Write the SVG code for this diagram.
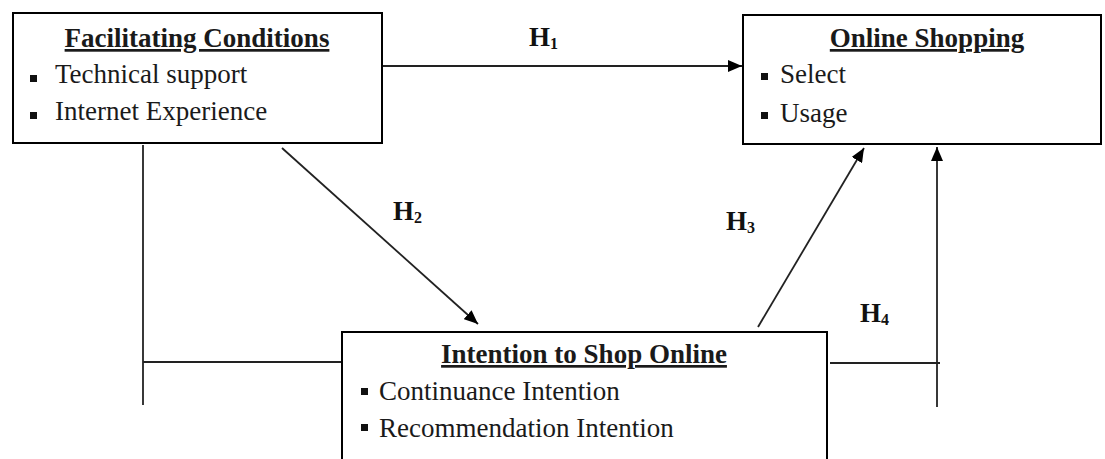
<svg xmlns="http://www.w3.org/2000/svg" width="1105" height="459" viewBox="0 0 1105 459">
<style>
.box{fill:#fff;stroke:#000;stroke-width:2}
text{font-family:'Liberation Serif','Times New Roman','DejaVu Serif',serif}
.t{font-size:27px;font-weight:bold;text-decoration:underline;fill:#1a1a1a}
.i{font-size:27px;fill:#1a1a1a}
.h{font-size:27px;font-weight:bold;fill:#111}
.s{font-size:16px}
.b{fill:#111}
.c{stroke:#222;stroke-width:1.8;fill:none}
</style>
<defs>
<marker id="ah" viewBox="0 0 14 12" refX="14" refY="6" markerWidth="14" markerHeight="12" markerUnits="userSpaceOnUse" orient="auto">
<path d="M0,0 L14,6 L0,12 z" fill="#000"/>
</marker>
</defs>
<g id="connectors">
<line class="c" x1="382" y1="66" x2="742" y2="66" marker-end="url(#ah)"/>
<line class="c" x1="282" y1="148" x2="478" y2="324" marker-end="url(#ah)"/>
<line class="c" x1="758" y1="327" x2="864" y2="148" marker-end="url(#ah)"/>
<line class="c" x1="937" y1="407" x2="937" y2="147" marker-end="url(#ah)"/>
<line class="c" x1="143" y1="145" x2="143" y2="405"/>
<line class="c" x1="143" y1="362" x2="342" y2="362"/>
<line class="c" x1="830" y1="363" x2="940" y2="363"/>
<text class="h" x="529" y="46">H<tspan class="s" dy="3">1</tspan></text>
<text class="h" x="393" y="220">H<tspan class="s" dy="3">2</tspan></text>
<text class="h" x="726" y="230">H<tspan class="s" dy="3">3</tspan></text>
<text class="h" x="860" y="322">H<tspan class="s" dy="3">4</tspan></text>
</g>
<g id="facilitating">
<rect class="box" x="13" y="13" width="369" height="130"/>
<text class="t" x="197" y="47" text-anchor="middle">Facilitating Conditions</text>
<rect class="b" x="30" y="75" width="7" height="7"/>
<text class="i" x="55" y="83">Technical support</text>
<rect class="b" x="30" y="112" width="7" height="7"/>
<text class="i" x="55" y="120">Internet Experience</text>
</g>
<g id="online">
<rect class="box" x="743" y="15" width="358" height="129"/>
<text class="t" x="927" y="47" text-anchor="middle">Online Shopping</text>
<rect class="b" x="761" y="73" width="7" height="7"/>
<text class="i" x="780" y="83">Select</text>
<rect class="b" x="761" y="112" width="7" height="7"/>
<text class="i" x="780" y="122">Usage</text>
</g>
<g id="intention">
<rect class="box" x="342" y="332" width="485" height="140"/>
<text class="t" x="584" y="363" text-anchor="middle">Intention to Shop Online</text>
<rect class="b" x="361" y="388" width="7" height="7"/>
<text class="i" x="379" y="400">Continuance Intention</text>
<rect class="b" x="361" y="424" width="7" height="7"/>
<text class="i" x="379" y="437">Recommendation Intention</text>
</g>
</svg>
